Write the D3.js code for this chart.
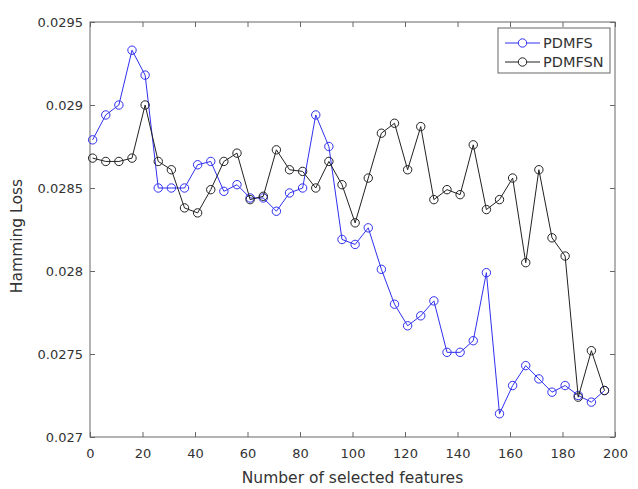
<!DOCTYPE html>
<html>
<head>
<meta charset="utf-8">
<script src="https://cdn.jsdelivr.net/npm/d3@7"></script>
<style>
  body { margin: 0; background: #fff; }
  svg text { font-family: "DejaVu Sans", sans-serif; fill: #333; }
</style>
</head>
<body>
<div id="chart"></div>
<script>
// Number of selected features (x positions of the markers)
const features = [1, 6, 11, 16, 21, 26, 31, 36, 41, 46, 51, 56, 61, 66, 71, 76, 81, 86, 91, 96,
                  101, 106, 111, 116, 121, 126, 131, 136, 141, 146, 151, 156, 161, 166, 171, 176, 181, 186, 191, 196];

// Hamming loss per method
const pdmfs = [0.02879, 0.02894, 0.02900, 0.02933, 0.02918, 0.02850, 0.02850, 0.02850, 0.02864, 0.02866,
               0.02848, 0.02852, 0.02844, 0.02844, 0.02836, 0.02847, 0.02850, 0.02894, 0.02875, 0.02819,
               0.02816, 0.02826, 0.02801, 0.02780, 0.02767, 0.02773, 0.02782, 0.02751, 0.02751, 0.02758,
               0.02799, 0.02714, 0.02731, 0.02743, 0.02735, 0.02727, 0.02731, 0.02725, 0.02721, 0.02728];
const pdmfsn = [0.02868, 0.02866, 0.02866, 0.02868, 0.02900, 0.02866, 0.02861, 0.02838, 0.02835, 0.02849,
                0.02866, 0.02871, 0.02843, 0.02845, 0.02873, 0.02861, 0.02860, 0.02850, 0.02866, 0.02852,
                0.02829, 0.02856, 0.02883, 0.02889, 0.02861, 0.02887, 0.02843, 0.02849, 0.02846, 0.02876,
                0.02837, 0.02843, 0.02856, 0.02805, 0.02861, 0.02820, 0.02809, 0.02724, 0.02752, 0.02728];

const seriesNames = ["PDMFS", "PDMFSN"];
const xTicks = [0, 20, 40, 60, 80, 100, 120, 140, 160, 180, 200];
const yTicks = [0.027, 0.0275, 0.028, 0.0285, 0.029, 0.0295];
const yTickLabels = ["0.027", "0.0275", "0.028", "0.0285", "0.029", "0.0295"];

const width = 638, height = 489;
const margin = { top: 22, right: 23, bottom: 52, left: 90 };
const axisColor = "#666";

const svg = d3.select("#chart").append("svg")
    .attr("width", width)
    .attr("height", height);

const x = d3.scaleLinear().domain([0, 200]).range([margin.left, width - margin.right]);
const y = d3.scaleLinear().domain([0.027, 0.0295]).range([height - margin.bottom, margin.top]);

// Axes with inward ticks on all four sides (MATLAB box style)
function styleAxis(g) {
    g.select(".domain").remove();
    g.selectAll(".tick line").attr("stroke", axisColor);
}

svg.append("g")
    .attr("transform", `translate(0,${y.range()[0]})`)
    .call(d3.axisBottom(x).tickValues(xTicks).tickSizeInner(-5).tickSizeOuter(0).tickPadding(12))
    .call(styleAxis)
    .selectAll("text").style("font-size", "13px").attr("fill", "#333");

svg.append("g")
    .attr("transform", `translate(0,${y.range()[1]})`)
    .call(d3.axisTop(x).tickValues(xTicks).tickSizeInner(-5).tickSizeOuter(0).tickFormat(""))
    .call(styleAxis);

svg.append("g")
    .attr("transform", `translate(${x.range()[0]},0)`)
    .call(d3.axisLeft(y).tickValues(yTicks).tickSizeInner(-5).tickSizeOuter(0).tickPadding(7)
        .tickFormat((d, i) => yTickLabels[i]))
    .call(styleAxis)
    .selectAll("text").style("font-size", "13px").attr("fill", "#333");

svg.append("g")
    .attr("transform", `translate(${x.range()[1]},0)`)
    .call(d3.axisRight(y).tickValues(yTicks).tickSizeInner(-5).tickSizeOuter(0).tickFormat(""))
    .call(styleAxis);

// Plot box
svg.append("rect")
    .attr("x", x.range()[0])
    .attr("y", y.range()[1])
    .attr("width", x.range()[1] - x.range()[0])
    .attr("height", y.range()[0] - y.range()[1])
    .attr("fill", "none")
    .attr("stroke", axisColor);

// Series
const series = [
    { name: seriesNames[0], values: pdmfs, color: "#3030f0" },
    { name: seriesNames[1], values: pdmfsn, color: "#222" }
];

const line = d3.line()
    .x((d, i) => x(features[i]))
    .y(d => y(d));

series.forEach(s => {
    const g = svg.append("g");
    g.append("path")
        .datum(s.values)
        .attr("fill", "none")
        .attr("stroke", s.color)
        .attr("stroke-width", 1)
        .attr("d", line);
    g.selectAll("circle")
        .data(s.values)
        .join("circle")
        .attr("cx", (d, i) => x(features[i]))
        .attr("cy", d => y(d))
        .attr("r", 4.2)
        .attr("fill", "none")
        .attr("stroke", s.color)
        .attr("stroke-width", 1);
});

// Axis labels
svg.append("text")
    .attr("x", (x.range()[0] + x.range()[1]) / 2)
    .attr("y", 483)
    .attr("text-anchor", "middle")
    .style("font-size", "15.5px")
    .text("Number of selected features");

svg.append("text")
    .attr("transform", `translate(22,236) rotate(-90)`)
    .attr("text-anchor", "middle")
    .style("font-size", "15.5px")
    .text("Hamming Loss");

// Legend
const legend = svg.append("g").attr("transform", "translate(498,28)");
legend.append("rect")
    .attr("width", 112)
    .attr("height", 45)
    .attr("fill", "#fff")
    .attr("stroke", axisColor);

series.forEach((s, i) => {
    const ly = 15 + i * 19;
    legend.append("line")
        .attr("x1", 7).attr("x2", 42)
        .attr("y1", ly).attr("y2", ly)
        .attr("stroke", s.color);
    legend.append("circle")
        .attr("cx", 24.5).attr("cy", ly).attr("r", 4.2)
        .attr("fill", "#fff")
        .attr("stroke", s.color);
    legend.append("text")
        .attr("x", 45)
        .attr("y", ly)
        .attr("dy", "0.35em")
        .style("font-size", "14.5px")
        .text(s.name);
});
</script>
</body>
</html>
